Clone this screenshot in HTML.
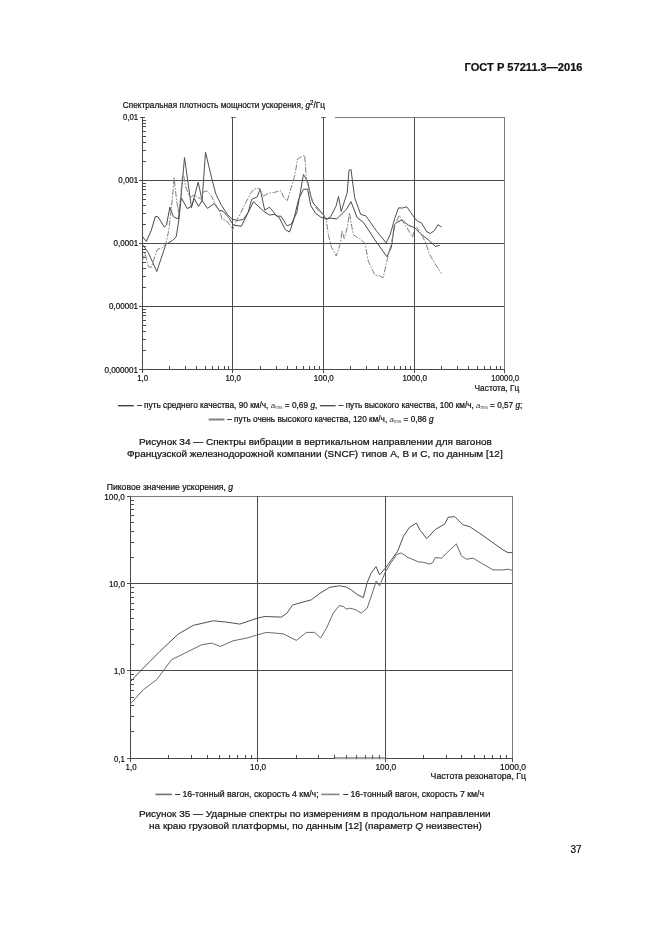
<!DOCTYPE html>
<html lang="ru"><head><meta charset="utf-8"><title>ГОСТ Р 57211.3—2016</title>
<style>
html,body{margin:0;padding:0;background:#fff;}
body{width:661px;height:935px;overflow:hidden;}
svg{display:block;}
svg text{font-family:"Liberation Sans",sans-serif;fill:#111;stroke:#111;stroke-width:0.22px;}
</style></head><body>
<svg width="661" height="935" viewBox="0 0 661 935">
<rect width="661" height="935" fill="#fff"/>
<line x1="335.00" y1="117.20" x2="504.90" y2="117.20" stroke="#7a7a7a" stroke-width="1.0" shape-rendering="crispEdges"/>
<line x1="139.90" y1="117.20" x2="144.90" y2="117.20" stroke="#4a4a4a" stroke-width="1.0" shape-rendering="crispEdges"/>
<line x1="230.65" y1="117.20" x2="235.65" y2="117.20" stroke="#7a7a7a" stroke-width="1.0" shape-rendering="crispEdges"/>
<line x1="321.30" y1="117.20" x2="326.30" y2="117.20" stroke="#7a7a7a" stroke-width="1.0" shape-rendering="crispEdges"/>
<line x1="138.80" y1="180.20" x2="504.90" y2="180.20" stroke="#4a4a4a" stroke-width="1.0" shape-rendering="crispEdges"/>
<line x1="138.80" y1="243.20" x2="504.90" y2="243.20" stroke="#4a4a4a" stroke-width="1.0" shape-rendering="crispEdges"/>
<line x1="138.80" y1="306.20" x2="504.90" y2="306.20" stroke="#4a4a4a" stroke-width="1.0" shape-rendering="crispEdges"/>
<line x1="138.80" y1="369.30" x2="504.90" y2="369.30" stroke="#4a4a4a" stroke-width="1.0" shape-rendering="crispEdges"/>
<line x1="142.40" y1="117.20" x2="142.40" y2="372.70" stroke="#4a4a4a" stroke-width="1.0" shape-rendering="crispEdges"/>
<line x1="232.85" y1="117.20" x2="232.85" y2="372.70" stroke="#4a4a4a" stroke-width="1.0" shape-rendering="crispEdges"/>
<line x1="323.50" y1="117.20" x2="323.50" y2="372.70" stroke="#4a4a4a" stroke-width="1.0" shape-rendering="crispEdges"/>
<line x1="414.40" y1="117.20" x2="414.40" y2="372.70" stroke="#4a4a4a" stroke-width="1.0" shape-rendering="crispEdges"/>
<line x1="504.90" y1="117.20" x2="504.90" y2="369.30" stroke="#7a7a7a" stroke-width="1.0" shape-rendering="crispEdges"/>
<line x1="504.90" y1="369.30" x2="504.90" y2="372.70" stroke="#4a4a4a" stroke-width="1.0" shape-rendering="crispEdges"/>
<line x1="142.40" y1="161.24" x2="145.60" y2="161.24" stroke="#4a4a4a" stroke-width="1" shape-rendering="crispEdges"/>
<line x1="142.40" y1="150.14" x2="145.60" y2="150.14" stroke="#4a4a4a" stroke-width="1" shape-rendering="crispEdges"/>
<line x1="142.40" y1="142.27" x2="145.60" y2="142.27" stroke="#4a4a4a" stroke-width="1" shape-rendering="crispEdges"/>
<line x1="142.40" y1="136.16" x2="145.60" y2="136.16" stroke="#4a4a4a" stroke-width="1" shape-rendering="crispEdges"/>
<line x1="142.40" y1="131.18" x2="145.60" y2="131.18" stroke="#4a4a4a" stroke-width="1" shape-rendering="crispEdges"/>
<line x1="142.40" y1="126.96" x2="145.60" y2="126.96" stroke="#4a4a4a" stroke-width="1" shape-rendering="crispEdges"/>
<line x1="142.40" y1="123.31" x2="145.60" y2="123.31" stroke="#4a4a4a" stroke-width="1" shape-rendering="crispEdges"/>
<line x1="142.40" y1="120.08" x2="145.60" y2="120.08" stroke="#4a4a4a" stroke-width="1" shape-rendering="crispEdges"/>
<line x1="142.40" y1="224.24" x2="145.60" y2="224.24" stroke="#4a4a4a" stroke-width="1" shape-rendering="crispEdges"/>
<line x1="142.40" y1="213.14" x2="145.60" y2="213.14" stroke="#4a4a4a" stroke-width="1" shape-rendering="crispEdges"/>
<line x1="142.40" y1="205.27" x2="145.60" y2="205.27" stroke="#4a4a4a" stroke-width="1" shape-rendering="crispEdges"/>
<line x1="142.40" y1="199.16" x2="145.60" y2="199.16" stroke="#4a4a4a" stroke-width="1" shape-rendering="crispEdges"/>
<line x1="142.40" y1="194.18" x2="145.60" y2="194.18" stroke="#4a4a4a" stroke-width="1" shape-rendering="crispEdges"/>
<line x1="142.40" y1="189.96" x2="145.60" y2="189.96" stroke="#4a4a4a" stroke-width="1" shape-rendering="crispEdges"/>
<line x1="142.40" y1="186.31" x2="145.60" y2="186.31" stroke="#4a4a4a" stroke-width="1" shape-rendering="crispEdges"/>
<line x1="142.40" y1="183.08" x2="145.60" y2="183.08" stroke="#4a4a4a" stroke-width="1" shape-rendering="crispEdges"/>
<line x1="142.40" y1="287.24" x2="145.60" y2="287.24" stroke="#4a4a4a" stroke-width="1" shape-rendering="crispEdges"/>
<line x1="142.40" y1="276.14" x2="145.60" y2="276.14" stroke="#4a4a4a" stroke-width="1" shape-rendering="crispEdges"/>
<line x1="142.40" y1="268.27" x2="145.60" y2="268.27" stroke="#4a4a4a" stroke-width="1" shape-rendering="crispEdges"/>
<line x1="142.40" y1="262.16" x2="145.60" y2="262.16" stroke="#4a4a4a" stroke-width="1" shape-rendering="crispEdges"/>
<line x1="142.40" y1="257.18" x2="145.60" y2="257.18" stroke="#4a4a4a" stroke-width="1" shape-rendering="crispEdges"/>
<line x1="142.40" y1="252.96" x2="145.60" y2="252.96" stroke="#4a4a4a" stroke-width="1" shape-rendering="crispEdges"/>
<line x1="142.40" y1="249.31" x2="145.60" y2="249.31" stroke="#4a4a4a" stroke-width="1" shape-rendering="crispEdges"/>
<line x1="142.40" y1="246.08" x2="145.60" y2="246.08" stroke="#4a4a4a" stroke-width="1" shape-rendering="crispEdges"/>
<line x1="142.40" y1="350.31" x2="145.60" y2="350.31" stroke="#4a4a4a" stroke-width="1" shape-rendering="crispEdges"/>
<line x1="142.40" y1="339.19" x2="145.60" y2="339.19" stroke="#4a4a4a" stroke-width="1" shape-rendering="crispEdges"/>
<line x1="142.40" y1="331.31" x2="145.60" y2="331.31" stroke="#4a4a4a" stroke-width="1" shape-rendering="crispEdges"/>
<line x1="142.40" y1="325.19" x2="145.60" y2="325.19" stroke="#4a4a4a" stroke-width="1" shape-rendering="crispEdges"/>
<line x1="142.40" y1="320.20" x2="145.60" y2="320.20" stroke="#4a4a4a" stroke-width="1" shape-rendering="crispEdges"/>
<line x1="142.40" y1="315.97" x2="145.60" y2="315.97" stroke="#4a4a4a" stroke-width="1" shape-rendering="crispEdges"/>
<line x1="142.40" y1="312.32" x2="145.60" y2="312.32" stroke="#4a4a4a" stroke-width="1" shape-rendering="crispEdges"/>
<line x1="142.40" y1="309.09" x2="145.60" y2="309.09" stroke="#4a4a4a" stroke-width="1" shape-rendering="crispEdges"/>
<line x1="169.63" y1="369.30" x2="169.63" y2="366.10" stroke="#4a4a4a" stroke-width="1" shape-rendering="crispEdges"/>
<line x1="185.56" y1="369.30" x2="185.56" y2="366.10" stroke="#4a4a4a" stroke-width="1" shape-rendering="crispEdges"/>
<line x1="196.86" y1="369.30" x2="196.86" y2="366.10" stroke="#4a4a4a" stroke-width="1" shape-rendering="crispEdges"/>
<line x1="205.62" y1="369.30" x2="205.62" y2="366.10" stroke="#4a4a4a" stroke-width="1" shape-rendering="crispEdges"/>
<line x1="212.78" y1="369.30" x2="212.78" y2="366.10" stroke="#4a4a4a" stroke-width="1" shape-rendering="crispEdges"/>
<line x1="218.84" y1="369.30" x2="218.84" y2="366.10" stroke="#4a4a4a" stroke-width="1" shape-rendering="crispEdges"/>
<line x1="224.08" y1="369.30" x2="224.08" y2="366.10" stroke="#4a4a4a" stroke-width="1" shape-rendering="crispEdges"/>
<line x1="228.71" y1="369.30" x2="228.71" y2="366.10" stroke="#4a4a4a" stroke-width="1" shape-rendering="crispEdges"/>
<line x1="260.14" y1="369.30" x2="260.14" y2="366.10" stroke="#4a4a4a" stroke-width="1" shape-rendering="crispEdges"/>
<line x1="276.10" y1="369.30" x2="276.10" y2="366.10" stroke="#4a4a4a" stroke-width="1" shape-rendering="crispEdges"/>
<line x1="287.43" y1="369.30" x2="287.43" y2="366.10" stroke="#4a4a4a" stroke-width="1" shape-rendering="crispEdges"/>
<line x1="296.21" y1="369.30" x2="296.21" y2="366.10" stroke="#4a4a4a" stroke-width="1" shape-rendering="crispEdges"/>
<line x1="303.39" y1="369.30" x2="303.39" y2="366.10" stroke="#4a4a4a" stroke-width="1" shape-rendering="crispEdges"/>
<line x1="309.46" y1="369.30" x2="309.46" y2="366.10" stroke="#4a4a4a" stroke-width="1" shape-rendering="crispEdges"/>
<line x1="314.72" y1="369.30" x2="314.72" y2="366.10" stroke="#4a4a4a" stroke-width="1" shape-rendering="crispEdges"/>
<line x1="319.35" y1="369.30" x2="319.35" y2="366.10" stroke="#4a4a4a" stroke-width="1" shape-rendering="crispEdges"/>
<line x1="350.86" y1="369.30" x2="350.86" y2="366.10" stroke="#4a4a4a" stroke-width="1" shape-rendering="crispEdges"/>
<line x1="366.87" y1="369.30" x2="366.87" y2="366.10" stroke="#4a4a4a" stroke-width="1" shape-rendering="crispEdges"/>
<line x1="378.23" y1="369.30" x2="378.23" y2="366.10" stroke="#4a4a4a" stroke-width="1" shape-rendering="crispEdges"/>
<line x1="387.04" y1="369.30" x2="387.04" y2="366.10" stroke="#4a4a4a" stroke-width="1" shape-rendering="crispEdges"/>
<line x1="394.23" y1="369.30" x2="394.23" y2="366.10" stroke="#4a4a4a" stroke-width="1" shape-rendering="crispEdges"/>
<line x1="400.32" y1="369.30" x2="400.32" y2="366.10" stroke="#4a4a4a" stroke-width="1" shape-rendering="crispEdges"/>
<line x1="405.59" y1="369.30" x2="405.59" y2="366.10" stroke="#4a4a4a" stroke-width="1" shape-rendering="crispEdges"/>
<line x1="410.24" y1="369.30" x2="410.24" y2="366.10" stroke="#4a4a4a" stroke-width="1" shape-rendering="crispEdges"/>
<line x1="441.64" y1="369.30" x2="441.64" y2="366.10" stroke="#4a4a4a" stroke-width="1" shape-rendering="crispEdges"/>
<line x1="457.58" y1="369.30" x2="457.58" y2="366.10" stroke="#4a4a4a" stroke-width="1" shape-rendering="crispEdges"/>
<line x1="468.89" y1="369.30" x2="468.89" y2="366.10" stroke="#4a4a4a" stroke-width="1" shape-rendering="crispEdges"/>
<line x1="477.66" y1="369.30" x2="477.66" y2="366.10" stroke="#4a4a4a" stroke-width="1" shape-rendering="crispEdges"/>
<line x1="484.82" y1="369.30" x2="484.82" y2="366.10" stroke="#4a4a4a" stroke-width="1" shape-rendering="crispEdges"/>
<line x1="490.88" y1="369.30" x2="490.88" y2="366.10" stroke="#4a4a4a" stroke-width="1" shape-rendering="crispEdges"/>
<line x1="496.13" y1="369.30" x2="496.13" y2="366.10" stroke="#4a4a4a" stroke-width="1" shape-rendering="crispEdges"/>
<line x1="500.76" y1="369.30" x2="500.76" y2="366.10" stroke="#4a4a4a" stroke-width="1" shape-rendering="crispEdges"/>
<line x1="127.00" y1="496.40" x2="130.60" y2="496.40" stroke="#4a4a4a" stroke-width="1.0" shape-rendering="crispEdges"/>
<line x1="130.60" y1="496.40" x2="512.60" y2="496.40" stroke="#7a7a7a" stroke-width="1.0" shape-rendering="crispEdges"/>
<line x1="127.00" y1="583.70" x2="512.60" y2="583.70" stroke="#4a4a4a" stroke-width="1.0" shape-rendering="crispEdges"/>
<line x1="127.00" y1="670.90" x2="512.60" y2="670.90" stroke="#4a4a4a" stroke-width="1.0" shape-rendering="crispEdges"/>
<line x1="127.00" y1="758.30" x2="512.60" y2="758.30" stroke="#4a4a4a" stroke-width="1.0" shape-rendering="crispEdges"/>
<line x1="130.60" y1="496.40" x2="130.60" y2="761.70" stroke="#4a4a4a" stroke-width="1.0" shape-rendering="crispEdges"/>
<line x1="257.60" y1="496.40" x2="257.60" y2="761.70" stroke="#4a4a4a" stroke-width="1.0" shape-rendering="crispEdges"/>
<line x1="385.30" y1="496.40" x2="385.30" y2="761.70" stroke="#4a4a4a" stroke-width="1.0" shape-rendering="crispEdges"/>
<line x1="512.60" y1="496.40" x2="512.60" y2="758.30" stroke="#7a7a7a" stroke-width="1.0" shape-rendering="crispEdges"/>
<line x1="512.60" y1="758.30" x2="512.60" y2="761.70" stroke="#4a4a4a" stroke-width="1.0" shape-rendering="crispEdges"/>
<line x1="130.60" y1="557.42" x2="133.80" y2="557.42" stroke="#4a4a4a" stroke-width="1" shape-rendering="crispEdges"/>
<line x1="130.60" y1="542.05" x2="133.80" y2="542.05" stroke="#4a4a4a" stroke-width="1" shape-rendering="crispEdges"/>
<line x1="130.60" y1="531.14" x2="133.80" y2="531.14" stroke="#4a4a4a" stroke-width="1" shape-rendering="crispEdges"/>
<line x1="130.60" y1="522.68" x2="133.80" y2="522.68" stroke="#4a4a4a" stroke-width="1" shape-rendering="crispEdges"/>
<line x1="130.60" y1="515.77" x2="133.80" y2="515.77" stroke="#4a4a4a" stroke-width="1" shape-rendering="crispEdges"/>
<line x1="130.60" y1="509.92" x2="133.80" y2="509.92" stroke="#4a4a4a" stroke-width="1" shape-rendering="crispEdges"/>
<line x1="130.60" y1="504.86" x2="133.80" y2="504.86" stroke="#4a4a4a" stroke-width="1" shape-rendering="crispEdges"/>
<line x1="130.60" y1="500.39" x2="133.80" y2="500.39" stroke="#4a4a4a" stroke-width="1" shape-rendering="crispEdges"/>
<line x1="130.60" y1="644.65" x2="133.80" y2="644.65" stroke="#4a4a4a" stroke-width="1" shape-rendering="crispEdges"/>
<line x1="130.60" y1="629.30" x2="133.80" y2="629.30" stroke="#4a4a4a" stroke-width="1" shape-rendering="crispEdges"/>
<line x1="130.60" y1="618.40" x2="133.80" y2="618.40" stroke="#4a4a4a" stroke-width="1" shape-rendering="crispEdges"/>
<line x1="130.60" y1="609.95" x2="133.80" y2="609.95" stroke="#4a4a4a" stroke-width="1" shape-rendering="crispEdges"/>
<line x1="130.60" y1="603.05" x2="133.80" y2="603.05" stroke="#4a4a4a" stroke-width="1" shape-rendering="crispEdges"/>
<line x1="130.60" y1="597.21" x2="133.80" y2="597.21" stroke="#4a4a4a" stroke-width="1" shape-rendering="crispEdges"/>
<line x1="130.60" y1="592.15" x2="133.80" y2="592.15" stroke="#4a4a4a" stroke-width="1" shape-rendering="crispEdges"/>
<line x1="130.60" y1="587.69" x2="133.80" y2="587.69" stroke="#4a4a4a" stroke-width="1" shape-rendering="crispEdges"/>
<line x1="130.60" y1="731.99" x2="133.80" y2="731.99" stroke="#4a4a4a" stroke-width="1" shape-rendering="crispEdges"/>
<line x1="130.60" y1="716.60" x2="133.80" y2="716.60" stroke="#4a4a4a" stroke-width="1" shape-rendering="crispEdges"/>
<line x1="130.60" y1="705.68" x2="133.80" y2="705.68" stroke="#4a4a4a" stroke-width="1" shape-rendering="crispEdges"/>
<line x1="130.60" y1="697.21" x2="133.80" y2="697.21" stroke="#4a4a4a" stroke-width="1" shape-rendering="crispEdges"/>
<line x1="130.60" y1="690.29" x2="133.80" y2="690.29" stroke="#4a4a4a" stroke-width="1" shape-rendering="crispEdges"/>
<line x1="130.60" y1="684.44" x2="133.80" y2="684.44" stroke="#4a4a4a" stroke-width="1" shape-rendering="crispEdges"/>
<line x1="130.60" y1="679.37" x2="133.80" y2="679.37" stroke="#4a4a4a" stroke-width="1" shape-rendering="crispEdges"/>
<line x1="130.60" y1="674.90" x2="133.80" y2="674.90" stroke="#4a4a4a" stroke-width="1" shape-rendering="crispEdges"/>
<line x1="168.83" y1="758.30" x2="168.83" y2="755.10" stroke="#4a4a4a" stroke-width="1" shape-rendering="crispEdges"/>
<line x1="191.19" y1="758.30" x2="191.19" y2="755.10" stroke="#4a4a4a" stroke-width="1" shape-rendering="crispEdges"/>
<line x1="207.06" y1="758.30" x2="207.06" y2="755.10" stroke="#4a4a4a" stroke-width="1" shape-rendering="crispEdges"/>
<line x1="219.37" y1="758.30" x2="219.37" y2="755.10" stroke="#4a4a4a" stroke-width="1" shape-rendering="crispEdges"/>
<line x1="229.43" y1="758.30" x2="229.43" y2="755.10" stroke="#4a4a4a" stroke-width="1" shape-rendering="crispEdges"/>
<line x1="237.93" y1="758.30" x2="237.93" y2="755.10" stroke="#4a4a4a" stroke-width="1" shape-rendering="crispEdges"/>
<line x1="245.29" y1="758.30" x2="245.29" y2="755.10" stroke="#4a4a4a" stroke-width="1" shape-rendering="crispEdges"/>
<line x1="251.79" y1="758.30" x2="251.79" y2="755.10" stroke="#4a4a4a" stroke-width="1" shape-rendering="crispEdges"/>
<line x1="296.04" y1="758.30" x2="296.04" y2="755.10" stroke="#4a4a4a" stroke-width="1" shape-rendering="crispEdges"/>
<line x1="318.53" y1="758.30" x2="318.53" y2="755.10" stroke="#4a4a4a" stroke-width="1" shape-rendering="crispEdges"/>
<line x1="334.48" y1="758.30" x2="334.48" y2="755.10" stroke="#4a4a4a" stroke-width="1" shape-rendering="crispEdges"/>
<line x1="346.86" y1="758.30" x2="346.86" y2="755.10" stroke="#4a4a4a" stroke-width="1" shape-rendering="crispEdges"/>
<line x1="356.97" y1="758.30" x2="356.97" y2="755.10" stroke="#4a4a4a" stroke-width="1" shape-rendering="crispEdges"/>
<line x1="365.52" y1="758.30" x2="365.52" y2="755.10" stroke="#4a4a4a" stroke-width="1" shape-rendering="crispEdges"/>
<line x1="372.92" y1="758.30" x2="372.92" y2="755.10" stroke="#4a4a4a" stroke-width="1" shape-rendering="crispEdges"/>
<line x1="379.46" y1="758.30" x2="379.46" y2="755.10" stroke="#4a4a4a" stroke-width="1" shape-rendering="crispEdges"/>
<line x1="423.62" y1="758.30" x2="423.62" y2="755.10" stroke="#4a4a4a" stroke-width="1" shape-rendering="crispEdges"/>
<line x1="446.04" y1="758.30" x2="446.04" y2="755.10" stroke="#4a4a4a" stroke-width="1" shape-rendering="crispEdges"/>
<line x1="461.94" y1="758.30" x2="461.94" y2="755.10" stroke="#4a4a4a" stroke-width="1" shape-rendering="crispEdges"/>
<line x1="474.28" y1="758.30" x2="474.28" y2="755.10" stroke="#4a4a4a" stroke-width="1" shape-rendering="crispEdges"/>
<line x1="484.36" y1="758.30" x2="484.36" y2="755.10" stroke="#4a4a4a" stroke-width="1" shape-rendering="crispEdges"/>
<line x1="492.88" y1="758.30" x2="492.88" y2="755.10" stroke="#4a4a4a" stroke-width="1" shape-rendering="crispEdges"/>
<line x1="500.26" y1="758.30" x2="500.26" y2="755.10" stroke="#4a4a4a" stroke-width="1" shape-rendering="crispEdges"/>
<line x1="506.78" y1="758.30" x2="506.78" y2="755.10" stroke="#4a4a4a" stroke-width="1" shape-rendering="crispEdges"/>
<rect x="335" y="756.4" width="49.8" height="3.2" fill="#fff"/>
<rect x="335" y="757" width="49.8" height="2.2" fill="#a4a4a4"/>
<line x1="346.86" y1="758.60" x2="346.86" y2="755.20" stroke="#555" stroke-width="1.0" shape-rendering="crispEdges"/>
<line x1="356.97" y1="758.60" x2="356.97" y2="755.20" stroke="#555" stroke-width="1.0" shape-rendering="crispEdges"/>
<line x1="365.52" y1="758.60" x2="365.52" y2="755.20" stroke="#555" stroke-width="1.0" shape-rendering="crispEdges"/>
<line x1="372.92" y1="758.60" x2="372.92" y2="755.20" stroke="#555" stroke-width="1.0" shape-rendering="crispEdges"/>
<line x1="379.46" y1="758.60" x2="379.46" y2="755.20" stroke="#555" stroke-width="1.0" shape-rendering="crispEdges"/>
<polyline points="142.2,236.1 146.3,241.4 151.2,230.6 155.4,216.4 158.1,216.9 164.4,227.1 166.5,225.0 169.9,207.2 173.4,216.7 178.3,219.0 181.3,197.9 187.3,208.6 191.5,206.3 194.3,198.6 198.5,206.5 202.1,200.5 207.5,208.4 214.2,203.5 219.0,210.2 223.3,211.4 228.7,217.5 232.4,223.5 234.2,225.3 241.4,226.2 246.9,215.0 253.5,201.7 263.8,211.4 269.5,215.0 274.4,214.4 279.2,217.5 285.3,229.6 289.5,232.0 293.7,219.9 298.6,199.3 303.4,189.4 307.6,189.0 310.7,205.4 315.5,213.2 320.4,216.9 323.6,218.1 327.6,218.7 330.7,218.2 336.7,218.9 346.5,209.2 351.0,201.7 357.0,217.4 363.7,222.7 374.9,239.9 386.9,256.7 391.4,247.4 394.4,224.7 396.8,222.4 402.1,220.0 408.5,225.3 414.4,227.6 420.3,233.5 428.5,240.0 435.6,246.5 439.7,245.3" fill="none" stroke="#484848" stroke-width="1.0" stroke-linejoin="round" />
<polyline points="142.2,244.2 148.4,252.8 156.8,271.5 165.8,244.4 172.7,240.3 176.2,236.8 179.0,219.4 184.5,157.6 191.5,207.6 198.2,182.1 202.1,200.5 205.5,152.1 211.8,178.7 216.0,194.5 221.5,205.4 227.5,214.4 232.4,219.3 238.4,220.5 243.3,219.3 248.1,212.6 251.7,199.3 257.2,196.9 260.2,189.0 264.7,210.2 269.5,207.2 276.8,216.2 281.0,216.2 287.1,225.9 291.3,224.1 296.8,212.6 303.4,174.5 307.6,181.1 310.7,195.7 313.1,202.9 319.1,209.6 323.6,215.0 326.2,219.7 330.7,216.7 336.0,206.2 338.5,196.4 341.2,211.4 347.2,192.7 349.0,170.2 351.0,169.5 354.7,197.9 360.7,214.4 365.9,215.9 376.4,230.9 386.2,242.9 390.3,234.1 395.0,217.6 398.5,207.9 402.6,208.0 406.8,206.8 410.3,211.8 414.4,217.6 417.4,221.2 421.5,222.9 426.8,231.8 430.3,233.5 434.4,230.6 437.9,224.7 441.5,227.1" fill="none" stroke="#505050" stroke-width="1.0" stroke-linejoin="round" />
<polyline points="142.2,261.1 145.0,252.8 148.4,266.7 151.2,267.4 157.4,249.3 162.3,247.9 166.0,243.5 168.5,231.5 169.4,225.6 172.4,198.2 173.2,189.7 174.1,177.3 175.4,189.7 176.2,196.9 177.4,205.5 178.4,212.3 180.5,198.2 182.4,176.0 183.3,173.5 185.5,186.0 189.0,196.0 190.8,197.2 194.0,195.0 197.3,197.0 201.5,199.3 203.3,192.0 206.9,190.8 211.2,195.7 215.4,204.1 219.7,211.4 222.1,219.3 226.3,220.5 230.5,225.9 232.4,230.8 234.2,224.7 238.4,217.5 244.5,205.4 250.5,193.3 254.1,189.0 259.6,188.4 262.9,196.3 268.3,193.3 274.4,192.3 281.0,190.8 283.4,196.9 287.1,201.1 291.3,187.2 294.9,175.1 297.6,158.8 304.6,155.1 305.6,167.8 306.4,179.9 308.9,188.4 311.9,200.5 316.7,209.0 323.6,215.0 326.2,219.7 328.5,235.4 331.5,247.4 336.3,256.1 340.5,242.9 342.0,230.9 344.2,238.4 347.2,227.9 349.5,212.9 353.2,234.6 359.9,239.1 365.2,243.6 368.2,260.9 374.9,275.1 379.4,275.8 383.2,277.6 386.9,260.9 391.4,242.9 395.2,224.9 399.1,215.3 405.0,224.7 412.6,237.1 414.4,229.4 416.8,227.1 422.6,236.5 426.2,244.1 429.1,253.5 434.4,262.9 441.5,273.5" fill="none" stroke="#808080" stroke-width="1.0" stroke-linejoin="round" stroke-dasharray="6 1.5 1.5 1.5"/>
<polyline points="130.6,681.4 143.3,668.0 159.9,651.4 178.2,634.1 193.2,625.4 213.2,620.8 226.5,622.1 239.8,624.1 257.4,618.1 264.8,616.5 281.4,617.1 287.0,613.1 292.4,605.1 303.0,602.1 311.3,599.8 320.0,593.2 330.0,587.2 339.9,585.8 346.1,587.0 351.3,590.0 357.4,594.6 363.4,597.6 367.2,582.5 371.0,573.4 376.0,566.6 379.6,574.9 385.4,568.1 391.4,559.8 397.5,551.4 403.5,536.3 409.6,527.2 416.4,523.1 420.2,530.3 426.7,538.6 435.3,529.5 444.8,523.9 448.1,517.3 454.8,516.6 463.1,524.9 469.7,526.6 479.7,533.3 491.4,541.6 503.0,549.9 508.0,552.6 512.7,552.6" fill="none" stroke="#505050" stroke-width="1.0" stroke-linejoin="round" />
<polyline points="130.6,703.7 143.3,689.7 156.6,679.7 171.6,659.7 184.9,653.1 201.5,644.8 211.5,643.1 220.5,646.4 233.1,640.8 248.1,637.8 257.4,634.8 266.4,632.4 283.1,633.8 296.4,640.4 306.4,632.4 314.7,632.4 320.6,638.1 326.6,628.1 333.3,613.1 339.3,605.5 343.8,606.7 346.1,609.2 349.8,608.2 355.9,609.7 361.2,613.2 367.2,608.2 371.8,594.6 376.3,580.9 379.6,585.9 385.4,571.9 391.4,562.0 396.7,554.5 401.3,553.0 408.1,557.5 418.7,562.0 423.2,562.3 429.3,564.0 432.6,562.8 435.3,557.5 441.5,558.2 449.8,549.9 456.4,543.9 461.4,555.9 466.4,559.2 473.1,558.2 481.4,563.2 493.0,569.9 503.0,569.9 508.0,569.2 512.7,570.5" fill="none" stroke="#6a6a6a" stroke-width="1.0" stroke-linejoin="round" />
<text x="464.6" y="71.3" font-size="11.8" font-weight="bold" textLength="117.9" lengthAdjust="spacingAndGlyphs">ГОСТ Р 57211.3—2016</text>
<text x="570.5" y="853.4" font-size="10.3" font-weight="normal" textLength="11.2" lengthAdjust="spacingAndGlyphs">37</text>
<text x="122.8" y="108.3" font-size="8.8" font-weight="normal" textLength="202.2" lengthAdjust="spacingAndGlyphs">Спектральная плотность мощности ускорения, <tspan font-style="italic">g</tspan><tspan font-size="6.6" dy="-3.4">2</tspan><tspan dy="3.4">/Гц</tspan></text>
<text x="122.89999999999999" y="120.4" font-size="8.8" font-weight="normal" textLength="15.2" lengthAdjust="spacingAndGlyphs">0,01</text>
<text x="118.3" y="183.39999999999998" font-size="8.8" font-weight="normal" textLength="19.8" lengthAdjust="spacingAndGlyphs">0,001</text>
<text x="113.6" y="246.39999999999998" font-size="8.8" font-weight="normal" textLength="24.5" lengthAdjust="spacingAndGlyphs">0,0001</text>
<text x="109.0" y="309.4" font-size="8.8" font-weight="normal" textLength="29.1" lengthAdjust="spacingAndGlyphs">0,00001</text>
<text x="104.39999999999999" y="372.5" font-size="8.8" font-weight="normal" textLength="33.7" lengthAdjust="spacingAndGlyphs">0,000001</text>
<text x="137.3" y="381.2" font-size="8.8" font-weight="normal" textLength="10.8" lengthAdjust="spacingAndGlyphs">1,0</text>
<text x="225.45000000000002" y="381.2" font-size="8.8" font-weight="normal" textLength="15.4" lengthAdjust="spacingAndGlyphs">10,0</text>
<text x="313.8" y="381.2" font-size="8.8" font-weight="normal" textLength="20.0" lengthAdjust="spacingAndGlyphs">100,0</text>
<text x="402.4" y="381.2" font-size="8.8" font-weight="normal" textLength="24.6" lengthAdjust="spacingAndGlyphs">1000,0</text>
<text x="491.3" y="381.2" font-size="8.8" font-weight="normal" textLength="27.8" lengthAdjust="spacingAndGlyphs">10000,0</text>
<text x="474.6" y="391.0" font-size="8.8" font-weight="normal" textLength="44.6" lengthAdjust="spacingAndGlyphs">Частота, Гц</text>
<line x1="118.0" y1="405.7" x2="133.8" y2="405.7" stroke="#444" stroke-width="1.4"/>
<text x="137.2" y="407.8" font-size="8.3" font-weight="normal" textLength="180.1" lengthAdjust="spacingAndGlyphs">– путь среднего качества, 90 км/ч, <tspan font-style="italic" font-size="7.8" fill="#333" stroke="none">a</tspan><tspan font-size="4.5" dy="1" fill="#444" stroke="none">rms</tspan><tspan dy="-1"> = 0,69 </tspan><tspan font-style="italic">g</tspan>,</text>
<line x1="319.9" y1="405.7" x2="335.7" y2="405.7" stroke="#555" stroke-width="1.4"/>
<text x="338.8" y="407.8" font-size="8.3" font-weight="normal" textLength="183.5" lengthAdjust="spacingAndGlyphs">– путь высокого качества, 100 км/ч, <tspan font-style="italic" font-size="7.8" fill="#333" stroke="none">a</tspan><tspan font-size="4.5" dy="1" fill="#444" stroke="none">rms</tspan><tspan dy="-1"> = 0,57 </tspan><tspan font-style="italic">g</tspan>;</text>
<line x1="208.6" y1="419.5" x2="224.5" y2="419.5" stroke="#808080" stroke-width="2.0"/>
<text x="227.2" y="422.1" font-size="8.3" font-weight="normal" textLength="206.4" lengthAdjust="spacingAndGlyphs">– путь очень высокого качества, 120 км/ч, <tspan font-style="italic" font-size="7.8" fill="#333" stroke="none">a</tspan><tspan font-size="4.5" dy="1" fill="#444" stroke="none">rms</tspan><tspan dy="-1"> = 0,86 </tspan><tspan font-style="italic">g</tspan></text>
<text x="138.9" y="444.7" font-size="9.7" font-weight="normal" textLength="352.9" lengthAdjust="spacingAndGlyphs">Рисунок 34 — Спектры вибрации в вертикальном направлении для вагонов</text>
<text x="127.0" y="456.6" font-size="9.7" font-weight="normal" textLength="375.7" lengthAdjust="spacingAndGlyphs">Французской железнодорожной компании (SNCF) типов А, В и С, по данным [12]</text>
<text x="106.7" y="489.7" font-size="9.1" font-weight="normal" textLength="126.3" lengthAdjust="spacingAndGlyphs">Пиковое значение ускорения, <tspan font-style="italic">g</tspan></text>
<text x="104.30000000000001" y="499.79999999999995" font-size="9.1" font-weight="normal" textLength="20.6" lengthAdjust="spacingAndGlyphs">100,0</text>
<text x="109.10000000000001" y="587.1" font-size="9.1" font-weight="normal" textLength="15.8" lengthAdjust="spacingAndGlyphs">10,0</text>
<text x="114.0" y="674.3" font-size="9.1" font-weight="normal" textLength="10.9" lengthAdjust="spacingAndGlyphs">1,0</text>
<text x="114.0" y="761.6999999999999" font-size="9.1" font-weight="normal" textLength="10.9" lengthAdjust="spacingAndGlyphs">0,1</text>
<text x="125.6" y="770.0" font-size="9.1" font-weight="normal" textLength="11.0" lengthAdjust="spacingAndGlyphs">1,0</text>
<text x="250.10000000000002" y="770.0" font-size="9.1" font-weight="normal" textLength="16.0" lengthAdjust="spacingAndGlyphs">10,0</text>
<text x="375.40000000000003" y="770.0" font-size="9.1" font-weight="normal" textLength="20.8" lengthAdjust="spacingAndGlyphs">100,0</text>
<text x="500.1" y="770.0" font-size="9.1" font-weight="normal" textLength="26.0" lengthAdjust="spacingAndGlyphs">1000,0</text>
<text x="430.6" y="779.3" font-size="9.1" font-weight="normal" textLength="95.4" lengthAdjust="spacingAndGlyphs">Частота резонатора, Гц</text>
<line x1="155.5" y1="794.4" x2="172" y2="794.4" stroke="#777" stroke-width="1.7"/>
<text x="175.2" y="796.5" font-size="8.9" font-weight="normal" textLength="143.4" lengthAdjust="spacingAndGlyphs">– 16-тонный вагон, скорость 4 км/ч;</text>
<line x1="321.3" y1="794.4" x2="339.5" y2="794.4" stroke="#888" stroke-width="1.7"/>
<text x="343.2" y="796.5" font-size="8.9" font-weight="normal" textLength="140.8" lengthAdjust="spacingAndGlyphs">– 16-тонный вагон, скорость 7 км/ч</text>
<text x="138.9" y="816.7" font-size="9.7" font-weight="normal" textLength="351.8" lengthAdjust="spacingAndGlyphs">Рисунок 35 — Ударные спектры по измерениям в продольном направлении</text>
<text x="149.0" y="828.6" font-size="9.7" font-weight="normal" textLength="332.8" lengthAdjust="spacingAndGlyphs">на краю грузовой платформы, по данным [12] (параметр <tspan font-style="italic">Q</tspan> неизвестен)</text>
</svg>
</body></html>
